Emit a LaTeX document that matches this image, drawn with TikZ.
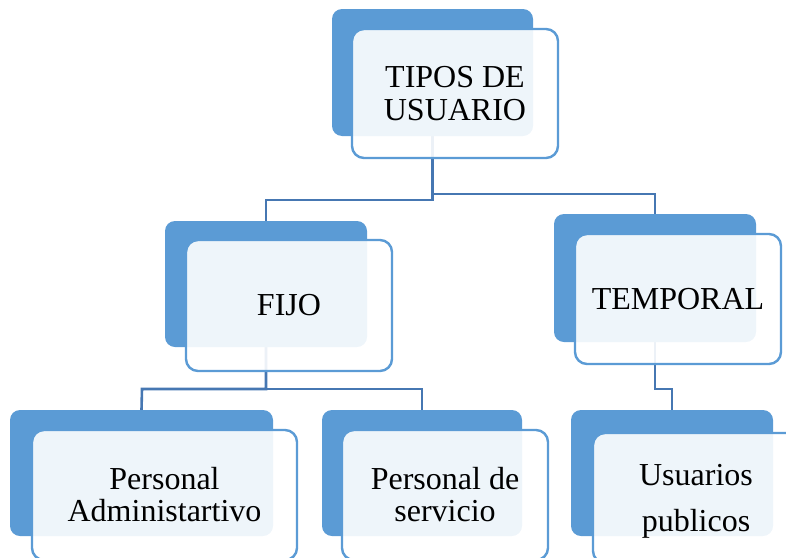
\documentclass[tikz,border=0pt]{standalone}
\usepackage{fontspec}
\setmainfont{Liberation Serif}
\usetikzlibrary{backgrounds}
\definecolor{darkbox}{HTML}{5B9BD5}
\definecolor{conn}{HTML}{4677B2}
\tikzset{
  backbox/.style={rectangle, rounded corners=10pt, fill=darkbox, draw=none, inner sep=0pt, outer sep=0pt},
  frontbox/.style={rectangle, rounded corners=12pt, draw=darkbox, line width=2.4pt, fill=white, fill opacity=0.9, text opacity=1, inner sep=0pt, outer sep=0pt, align=center, text=black},
  label/.style={font=\fontsize{32}{33}\selectfont},
  connector/.style={draw=conn, line width=2.6pt}
}
\begin{document}
\begin{tikzpicture}[x=1pt,y=-1pt]
\useasboundingbox (0,0) rectangle (786,557);
\clip (0,0) rectangle (786,557);
% TIPOS DE USUARIO
\node[backbox, minimum width=201pt, minimum height=127pt] (tipos) at (432.5,72.5) {};
\node[frontbox, label, minimum width=206pt, minimum height=129pt] (tiposF) at (455,93.5) {TIPOS DE\\USUARIO};
% FIJO
\node[backbox, minimum width=202pt, minimum height=126pt] (fijo) at (266,284) {};
\node[frontbox, label, minimum width=206pt, minimum height=131pt] (fijoF) at (289,305.5) {FIJO};
% TEMPORAL
\node[backbox, minimum width=202pt, minimum height=128pt] (temp) at (655,278) {};
\node[frontbox, label, minimum width=206pt, minimum height=130pt] (tempF) at (678,299) {TEMPORAL};
% Personal Administartivo
\node[backbox, minimum width=263pt, minimum height=126pt] (admin) at (141.5,473) {};
\node[frontbox, label, minimum width=265pt, minimum height=130pt] (adminF) at (164.5,495) {Personal\\[-1pt]Administartivo};
% Personal de servicio
\node[backbox, minimum width=200pt, minimum height=126pt] (serv) at (422,473) {};
\node[frontbox, label, minimum width=206pt, minimum height=130pt] (servF) at (445,495) {Personal de\\[-1pt]servicio};
% Usuarios publicos
\node[backbox, minimum width=202pt, minimum height=126pt] (usu) at (672,473) {};
\node[frontbox, label, minimum width=206pt, minimum height=130pt, text depth=0pt] (usuF) at (696,498) {Usuarios\\[13pt]publicos};
% connectors
\begin{pgfonlayer}{background}
\draw[connector] (tipos.south) |- (266,200) -- (fijo.north);
\draw[connector] (tipos.south) |- (655,194) -- (temp.north);
\draw[connector] (fijo.south) |- (142,389) -- (admin.north);
\draw[connector] (fijo.south) |- (422,389) -- (serv.north);
\draw[connector] (temp.south) |- (672,389) -- (usu.north);
\end{pgfonlayer}
\end{tikzpicture}
\end{document}
